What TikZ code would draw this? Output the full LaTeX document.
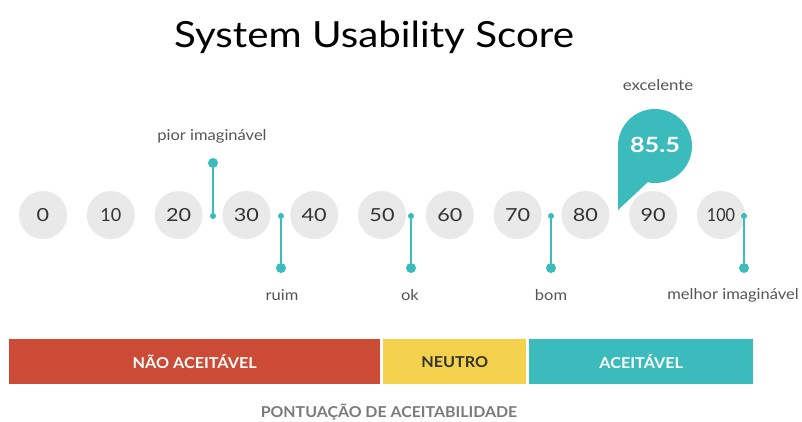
\documentclass[tikz,border=0pt]{standalone}
\usepackage{fontspec}
\setmainfont{Lato}
\definecolor{cRed}{HTML}{CB4B36}
\definecolor{cYel}{HTML}{F4D14C}
\definecolor{cTeal}{HTML}{3BBBBB}
\definecolor{cCirc}{HTML}{E9E9E9}
\definecolor{cNum}{HTML}{333333}
\definecolor{cLbl}{HTML}{555555}
\definecolor{cFoot}{HTML}{7A7A7A}
\newcommand{\widen}[2]{\scalebox{#1}[1]{#2}}
\begin{document}
\begin{tikzpicture}[x=1pt,y=-1pt,
  score/.style={circle,fill=cCirc,minimum size=48pt,inner sep=0pt,text=cNum,font=\fontsize{18}{18}\selectfont},
  lbl/.style={text=cLbl,font=\fontsize{15}{15}\selectfont,inner sep=0pt},
  stem/.style={draw=cTeal,line width=1.6pt},
  bigdot/.style={circle,fill=cTeal,minimum size=10pt,inner sep=0pt},
  smalldot/.style={circle,fill=cTeal,minimum size=6pt,inner sep=0pt},
  band/.style={minimum height=45pt,inner sep=0pt,font=\bfseries\fontsize{15}{15}\selectfont,anchor=north west}
]
\useasboundingbox (0,0) rectangle (802,421);
\fill[white] (0,0) rectangle (802,421);

\node[font=\fontsize{36}{36}\selectfont,text=black] (title) at (374,37) {\widen{1.12}{System Usability Score}};

\foreach \v/\f [count=\i from 0] in {0/1.2,10/1.0,20/1.2,30/1.2,40/1.2,50/1.2,60/1.2,70/1.2,80/1.2,90/1.2,100/0.9}{
  \node[score] (s\v) at ({43+67.8*\i},215) {\widen{\f}{\v}};
}

% pior imaginavel
\node[smalldot] (p1) at (213,216) {};
\node[bigdot] (p2) at (213,163) {};
\draw[stem] (p1) -- (p2);
\node[lbl] (pl) at (212,136) {\widen{1.1}{pior imaginável}};
% ruim
\node[smalldot] (r1) at (281,216) {};
\node[bigdot] (r2) at (281,268) {};
\draw[stem] (r1) -- (r2);
\node[lbl] (rl) at (282,295) {\widen{1.1}{ruim}};
% ok
\node[smalldot] (o1) at (411,216) {};
\node[bigdot] (o2) at (411,268) {};
\draw[stem] (o1) -- (o2);
\node[lbl] (ol) at (410,295) {\widen{1.1}{ok}};
% bom
\node[smalldot] (b1) at (551,216) {};
\node[bigdot] (b2) at (551,268) {};
\draw[stem] (b1) -- (b2);
\node[lbl] (bl) at (551,295) {\widen{1.1}{bom}};
% melhor
\node[smalldot] (m1) at (744,216) {};
\node[bigdot] (m2) at (744,268) {};
\draw[stem] (m1) -- (m2);
\node[lbl] (ml) at (733,295) {\widen{1.1}{melhor imaginável}};

% bubble
\fill[cTeal] (655,146) circle (37);
\fill[cTeal] (618,146) -- (618,210) -- (650,180) -- cycle;
\node[text=white,font=\bfseries\fontsize{21}{21}\selectfont] (bub) at (655,145) {\widen{1.2}{85.5}};
\node[lbl] (ex) at (658,85) {\widen{1.12}{excelente}};

% bands
\node[band,fill=cRed,text=white,minimum width=371pt] (nao) at (9,339) {\widen{1.08}{NÃO ACEITÁVEL}};
\node[band,fill=cYel,text=cNum,minimum width=143pt] (neu) at (383,339) {\widen{1.08}{NEUTRO}};
\node[band,fill=cTeal,text=white,minimum width=224pt] (ace) at (529,339) {\widen{1.08}{ACEITÁVEL}};
\node[text=cFoot,font=\bfseries\fontsize{15}{15}\selectfont] (foot) at (389,412) {\widen{1.06}{PONTUAÇÃO DE ACEITABILIDADE}};
\end{tikzpicture}
\end{document}
